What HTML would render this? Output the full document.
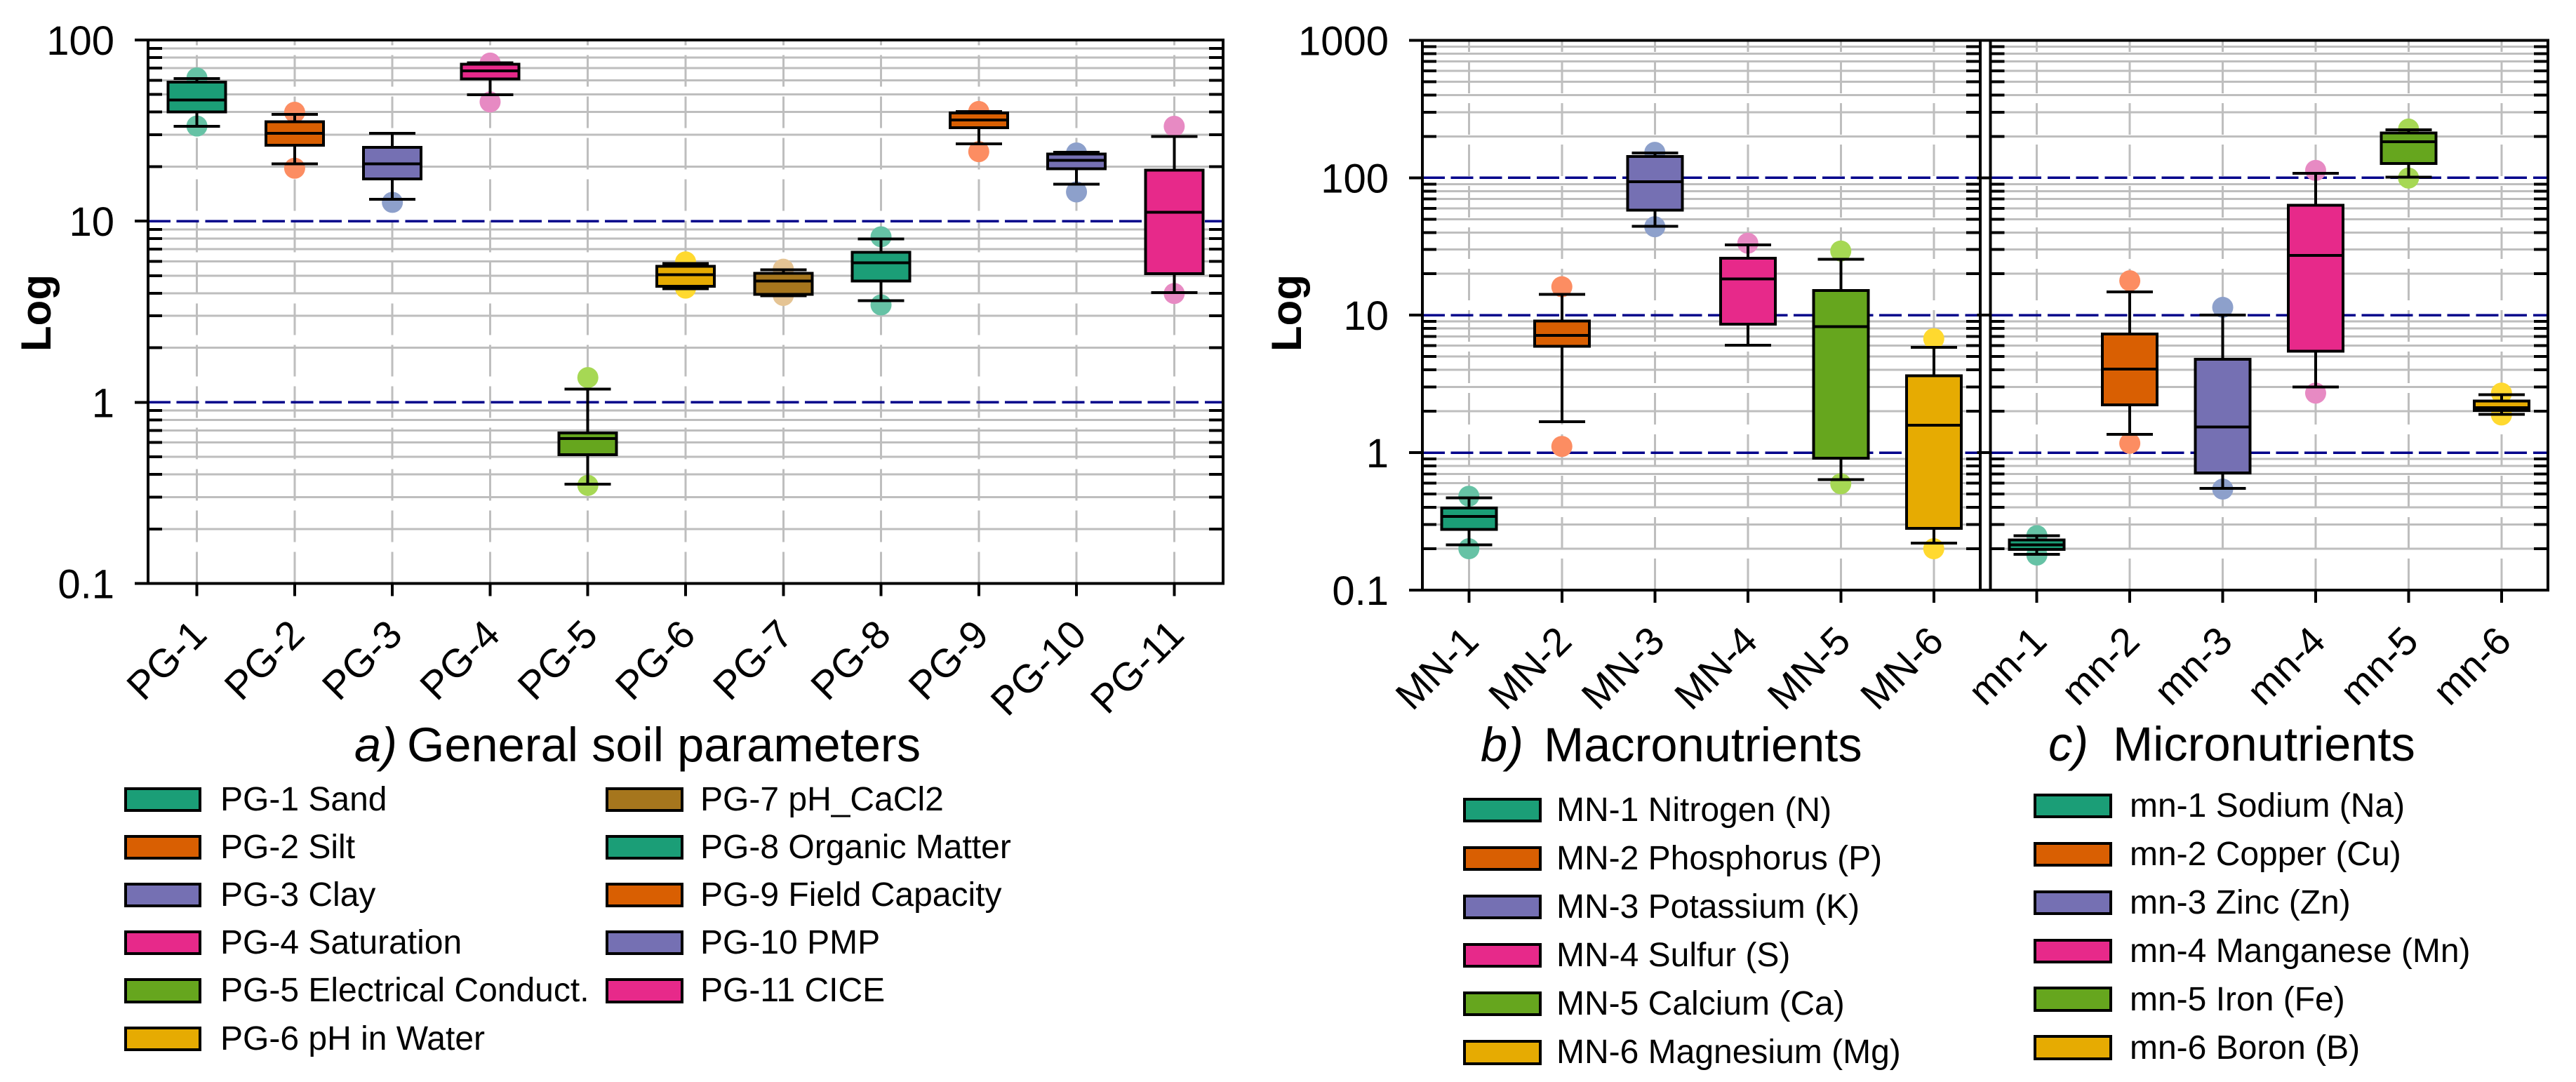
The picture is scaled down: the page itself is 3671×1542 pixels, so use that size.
<!DOCTYPE html>
<html lang="en">
<head>
<meta charset="utf-8">
<title>Soil parameter box plots</title>
<style>
html,body{margin:0;padding:0;background:#fff;}
svg{display:block;}
svg line,svg rect{shape-rendering:crispEdges;}
text{font-family:"Liberation Sans",Arial,sans-serif;fill:#000;}
.lg{font-size:48px;}
.ttl{font-size:68.6px;}
</style>
</head>
<body>
<svg id="chart" xmlns="http://www.w3.org/2000/svg" width="3671" height="1542" viewBox="0 0 3671 1542">
<rect x="0" y="0" width="3671" height="1542" fill="#fff"/>
<g id="plots"></g>

<g>
<text class="ttl" x="505" y="1085" font-style="italic">a)</text>
<text class="ttl" x="580" y="1085">General soil parameters</text>
<text class="ttl" x="2110" y="1085" font-style="italic">b)</text>
<text class="ttl" x="2200" y="1085">Macronutrients</text>
<text class="ttl" x="2919" y="1084" font-style="italic">c)</text>
<text class="ttl" x="3011" y="1084">Micronutrients</text>
</g>

<g stroke="#000" stroke-width="4">
<rect x="179" y="1124" width="106" height="31" fill="#1b9e77"/>
<rect x="179" y="1192" width="106" height="31" fill="#d95f02"/>
<rect x="179" y="1260" width="106" height="31" fill="#7570b3"/>
<rect x="179" y="1328" width="106" height="31" fill="#e7298a"/>
<rect x="179" y="1396" width="106" height="32" fill="#66a61e"/>
<rect x="179" y="1465" width="106" height="31" fill="#e6ab02"/>
<rect x="865" y="1124" width="107" height="31" fill="#a6761d"/>
<rect x="865" y="1192" width="107" height="31" fill="#1b9e77"/>
<rect x="865" y="1260" width="107" height="31" fill="#d95f02"/>
<rect x="865" y="1328" width="107" height="31" fill="#7570b3"/>
<rect x="865" y="1396" width="107" height="32" fill="#e7298a"/>
</g>
<g class="lg">
<text x="314" y="1155">PG-1 Sand</text>
<text x="314" y="1223">PG-2 Silt</text>
<text x="314" y="1291">PG-3 Clay</text>
<text x="314" y="1359">PG-4 Saturation</text>
<text x="314" y="1427">PG-5 Electrical Conduct.</text>
<text x="314" y="1496">PG-6 pH in Water</text>
<text x="998" y="1155">PG-7 pH_CaCl2</text>
<text x="998" y="1223">PG-8 Organic Matter</text>
<text x="998" y="1291">PG-9 Field Capacity</text>
<text x="998" y="1359">PG-10 PMP</text>
<text x="998" y="1427">PG-11 CICE</text>
</g>

<g stroke="#000" stroke-width="4">
<rect x="2087" y="1139" width="108" height="31" fill="#1b9e77"/>
<rect x="2087" y="1208" width="108" height="31" fill="#d95f02"/>
<rect x="2087" y="1277" width="108" height="31" fill="#7570b3"/>
<rect x="2087" y="1346" width="108" height="31" fill="#e7298a"/>
<rect x="2087" y="1415" width="108" height="31" fill="#66a61e"/>
<rect x="2087" y="1484" width="108" height="32" fill="#e6ab02"/>
</g>
<g class="lg">
<text x="2218" y="1170">MN-1 Nitrogen (N)</text>
<text x="2218" y="1239">MN-2 Phosphorus (P)</text>
<text x="2218" y="1308">MN-3 Potassium (K)</text>
<text x="2218" y="1377">MN-4 Sulfur (S)</text>
<text x="2218" y="1446">MN-5 Calcium (Ca)</text>
<text x="2218" y="1515">MN-6 Magnesium (Mg)</text>
</g>

<g stroke="#000" stroke-width="4">
<rect x="2900" y="1133" width="108" height="31" fill="#1b9e77"/>
<rect x="2900" y="1202" width="108" height="31" fill="#d95f02"/>
<rect x="2900" y="1271" width="108" height="31" fill="#7570b3"/>
<rect x="2900" y="1340" width="108" height="31" fill="#e7298a"/>
<rect x="2900" y="1408" width="108" height="32" fill="#66a61e"/>
<rect x="2900" y="1477" width="108" height="32" fill="#e6ab02"/>
</g>
<g class="lg">
<text x="3035" y="1164">mn-1 Sodium (Na)</text>
<text x="3035" y="1233">mn-2 Copper (Cu)</text>
<text x="3035" y="1302">mn-3 Zinc (Zn)</text>
<text x="3035" y="1371">mn-4 Manganese (Mn)</text>
<text x="3035" y="1440">mn-5 Iron (Fe)</text>
<text x="3035" y="1509">mn-6 Boron (B)</text>
</g>
</svg>

<script>
// ---- Panel a: general soil parameters ----
const pgCategories = ['PG-1','PG-2','PG-3','PG-4','PG-5','PG-6','PG-7','PG-8','PG-9','PG-10','PG-11'];
const pgWhiskerHigh = [61.2,38.8,30.5,74.9,1.186,5.83,5.38,7.98,40.3,24,29.4];
const pgQ3 = [58.6,35.4,25.6,73.6,0.679,5.64,5.16,6.73,39.6,23.5,19.1];
const pgMedian = [46.6,30.5,20.7,67.6,0.631,5.06,4.68,5.9,36.2,21.7,11.2];
const pgQ1 = [40,26.3,17.1,61,0.515,4.38,3.94,4.68,32.8,19.5,5.13];
const pgWhiskerLow = [33.4,20.7,13.2,49.9,0.353,4.24,3.87,3.64,26.7,16,4.04];
const pgOutlierHigh = [61.7,39.9,null,74.6,1.37,5.96,5.43,8.2,40.3,23.8,33.4];
const pgOutlierLow = [33.5,19.6,12.7,45.5,0.348,4.27,3.89,3.45,24.2,14.5,3.99];

// ---- Panel b: macronutrients ----
const macroCategories = ['MN-1','MN-2','MN-3','MN-4','MN-5','MN-6'];
const macroWhiskerHigh = [0.469,14.2,151,32.5,25.5,5.85];
const macroQ3 = [0.396,9.07,143,26,15.1,3.62];
const macroMedian = [0.344,7.11,93.6,18.4,8.25,1.58];
const macroQ1 = [0.277,5.93,58,8.6,0.914,0.282];
const macroWhiskerLow = [0.213,1.68,44.3,6.05,0.635,0.22];
const macroOutlierHigh = [0.482,16.1,153,33.4,29.3,6.74];
const macroOutlierLow = [0.2,1.11,44,null,0.594,0.2];

// ---- Panel c: micronutrients ----
const microCategories = ['mn-1','mn-2','mn-3','mn-4','mn-5','mn-6'];
const microWhiskerHigh = [0.248,14.8,10.05,108,223,2.64];
const microQ3 = [0.232,7.3,4.77,63,212,2.37];
const microMedian = [0.214,4.06,1.54,27.2,183,2.13];
const microQ1 = [0.198,2.23,0.713,5.47,127,2.03];
const microWhiskerLow = [0.182,1.36,0.551,3,101,1.9];
const microOutlierHigh = [0.249,17.8,11.4,113,226,2.71];
const microOutlierLow = [0.18,1.17,0.543,2.71,99.5,1.88];

// ---- Axis tick values ----
const yTicksA = [100,10,1,0.1];
const yTickLabelsA = ['100','10','1','0.1'];
const yTicksBC = [1000,100,10,1,0.1];
const yTickLabelsBC = ['1000','100','10','1','0.1'];
const referenceLinesA = [10,1];
const referenceLinesBC = [100,10,1];
const minorMultipliers = [2,3,4,5,6,7,8,9];

const boxColors = ['#1b9e77','#d95f02','#7570b3','#e7298a','#66a61e','#e6ab02','#a6761d'];
const dotColors = ['#66c2a5','#fc8d62','#8da0cb','#e78ac3','#a6d854','#ffd92f','#e5c494'];

const SVG_NS = 'http://www.w3.org/2000/svg';
const root = document.getElementById('plots');

function make(tag, attrs, parent) {
  const node = document.createElementNS(SVG_NS, tag);
  for (const key in attrs) node.setAttribute(key, attrs[key]);
  parent.appendChild(node);
  return node;
}
function slug(s) { return String(s).toLowerCase().replace(/[^a-z0-9]+/g, '-'); }

function drawPanel(cfg) {
  const group = make('g', {}, root);
  
  

  const n = cfg.categories.length;
  const xScale = i => cfg.left + (i + 0.5) * (cfg.right - cfg.left) / n;
  const logMax = Math.log10(cfg.yMax);
  const logMin = Math.log10(cfg.yMin);
  const yScale = v => cfg.top + (logMax - Math.log10(v)) * (cfg.bottom - cfg.top) / (logMax - logMin);

  // Horizontal minor grid + minor ticks positions
  const minorValues = [];
  for (let d = Math.round(logMin); d < Math.round(logMax); d++) {
    minorMultipliers.forEach(m => minorValues.push(m * Math.pow(10, d)));
  }

  minorValues.forEach(v => {
    const g = make('line', {x1: cfg.left, x2: cfg.right, y1: yScale(v), y2: yScale(v), stroke: '#bebebe', 'stroke-width': 3}, group);
    
    
  });

  cfg.categories.forEach((c, i) => {
    const g = make('line', {x1: xScale(i), x2: xScale(i), y1: cfg.bottom, y2: cfg.top, stroke: '#bebebe', 'stroke-width': 3, 'stroke-dasharray': '45 14'}, group);
    
    
  });

  cfg.references.forEach(v => {
    const r = make('line', {x1: cfg.left, x2: cfg.right - 2, y1: yScale(v), y2: yScale(v), stroke: '#00008b', 'stroke-width': 3.6, 'stroke-dasharray': '32 8.7'}, group);
    
    
  });

  cfg.categories.forEach((c, i) => {
    const x = xScale(i);
    const name = slug(c);
    const color = boxColors[i % boxColors.length];
    const dot = dotColors[i % dotColors.length];
    if (cfg.outlierHigh[i] !== null) {
      const p = make('circle', {cx: x, cy: yScale(cfg.outlierHigh[i]), r: 15, fill: dot}, group);
      
      
    }
    if (cfg.outlierLow[i] !== null) {
      const p = make('circle', {cx: x, cy: yScale(cfg.outlierLow[i]), r: 15, fill: dot}, group);
      
      
    }
    const stem = make('line', {x1: x, x2: x, y1: yScale(cfg.whiskerHigh[i]), y2: yScale(cfg.whiskerLow[i]), stroke: '#000', 'stroke-width': 4}, group);
    
    
    const capTop = make('line', {x1: x - cfg.capHalf, x2: x + cfg.capHalf, y1: yScale(cfg.whiskerHigh[i]), y2: yScale(cfg.whiskerHigh[i]), stroke: '#000', 'stroke-width': 4}, group);
    
    
    const capLow = make('line', {x1: x - cfg.capHalf, x2: x + cfg.capHalf, y1: yScale(cfg.whiskerLow[i]), y2: yScale(cfg.whiskerLow[i]), stroke: '#000', 'stroke-width': 4}, group);
    
    
    const box = make('rect', {x: x - cfg.boxHalf, y: yScale(cfg.q3[i]), width: cfg.boxHalf * 2, height: yScale(cfg.q1[i]) - yScale(cfg.q3[i]), fill: color, stroke: '#000', 'stroke-width': 4}, group);
    
    
    const med = make('line', {x1: x - cfg.boxHalf, x2: x + cfg.boxHalf, y1: yScale(cfg.median[i]), y2: yScale(cfg.median[i]), stroke: '#000', 'stroke-width': 4}, group);
    
    
  });

  // Minor ticks on both inner sides
  minorValues.forEach(v => {
    const a = make('line', {x1: cfg.left, x2: cfg.left + 20, y1: yScale(v), y2: yScale(v), stroke: '#000', 'stroke-width': 4}, group);
    
    
    const b = make('line', {x1: cfg.right, x2: cfg.right - 20, y1: yScale(v), y2: yScale(v), stroke: '#000', 'stroke-width': 4}, group);
    
    
  });

  // Frame
  const frame = make('rect', {x: cfg.left, y: cfg.top, width: cfg.right - cfg.left, height: cfg.bottom - cfg.top, fill: 'none', stroke: '#000', 'stroke-width': 4}, group);
  
  

  // Major ticks + labels
  cfg.yTicks.forEach((v, i) => {
    const t = make('line', {x1: cfg.left - 19, x2: cfg.left, y1: yScale(v), y2: yScale(v), stroke: '#000', 'stroke-width': 4}, group);
    
    
    if (cfg.yLabelX !== null) {
      const l = make('text', {x: cfg.yLabelX, y: yScale(v) + 21, 'text-anchor': 'end', 'font-size': 58}, group);
      l.textContent = cfg.yTickLabels[i];
      
      
    }
  });

  // X ticks + labels
  cfg.categories.forEach((c, i) => {
    const x = xScale(i);
    const t = make('line', {x1: x, x2: x, y1: cfg.bottom, y2: cfg.bottom + 18, stroke: '#000', 'stroke-width': 4}, group);
    
    
    const lx = x + 17;
    const ly = cfg.bottom + 76;
    const l = make('text', {x: lx, y: ly, 'text-anchor': 'end', 'font-size': 56.5, transform: 'rotate(-45 ' + lx + ' ' + ly + ')'}, group);
    l.textContent = c;
    
    
  });

  if (cfg.yTitleX !== null) {
    const ty = make('text', {x: cfg.yTitleX, y: 446, 'text-anchor': 'middle', 'font-size': 60, 'font-weight': 'bold', transform: 'rotate(-90 ' + cfg.yTitleX + ' 446)'}, group);
    ty.textContent = 'Log';
    
    
  }
}

drawPanel({
  id: 'a', left: 211, right: 1743, top: 57, bottom: 831.6, yMax: 100, yMin: 0.1,
  categories: pgCategories, whiskerHigh: pgWhiskerHigh, q3: pgQ3, median: pgMedian, q1: pgQ1,
  whiskerLow: pgWhiskerLow, outlierHigh: pgOutlierHigh, outlierLow: pgOutlierLow,
  yTicks: yTicksA, yTickLabels: yTickLabelsA, references: referenceLinesA,
  boxHalf: 41, capHalf: 33, yLabelX: 163, yTitleX: 72
});
drawPanel({
  id: 'b', left: 2027, right: 2822, top: 57.4, bottom: 841, yMax: 1000, yMin: 0.1,
  categories: macroCategories, whiskerHigh: macroWhiskerHigh, q3: macroQ3, median: macroMedian, q1: macroQ1,
  whiskerLow: macroWhiskerLow, outlierHigh: macroOutlierHigh, outlierLow: macroOutlierLow,
  yTicks: yTicksBC, yTickLabels: yTickLabelsBC, references: referenceLinesBC,
  boxHalf: 39, capHalf: 33, yLabelX: 1979, yTitleX: 1854
});
drawPanel({
  id: 'c', left: 2836.5, right: 3631, top: 57.4, bottom: 841, yMax: 1000, yMin: 0.1,
  categories: microCategories, whiskerHigh: microWhiskerHigh, q3: microQ3, median: microMedian, q1: microQ1,
  whiskerLow: microWhiskerLow, outlierHigh: microOutlierHigh, outlierLow: microOutlierLow,
  yTicks: yTicksBC, yTickLabels: yTickLabelsBC, references: referenceLinesBC,
  boxHalf: 39, capHalf: 33, yLabelX: null, yTitleX: null
});
</script>
</body>
</html>
